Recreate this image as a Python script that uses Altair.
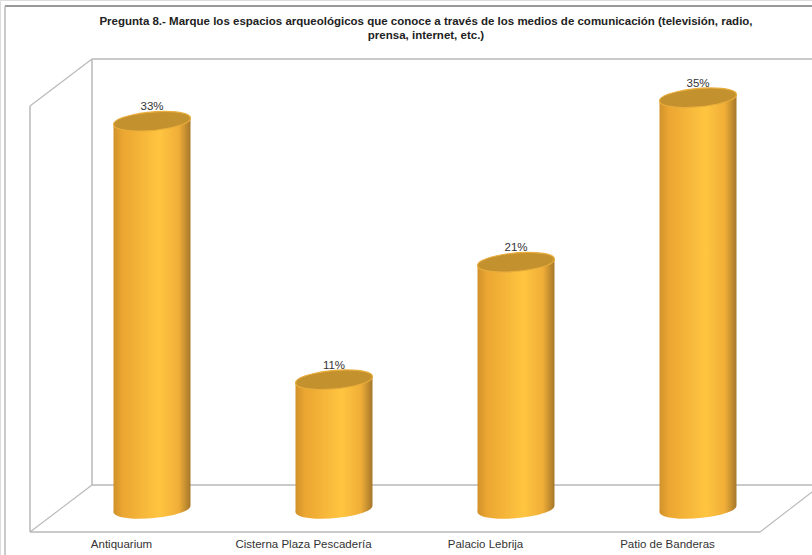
import altair as alt
import pandas as pd

# Survey results
categories = ["Antiquarium", "Cisterna Plaza Pescadería", "Palacio Lebrija", "Patio de Banderas"]
percentages = [33, 11, 21, 35]
title_lines = [
    "Pregunta 8.- Marque los espacios arqueológicos que conoce a través de los medios de comunicación (televisión, radio,",
    "prensa, internet, etc.)",
]

FONT = "Liberation Sans"
WIDTH, HEIGHT = 812, 555
HALF_WIDTH = 0.2115  # half a cylinder, in category units
SLANT = 0.3          # rise of the ellipse's right end, in percentage points

x_scale = alt.Scale(domain=[-0.5, 3.5], range=[61, 789], nice=False, zero=False)
y_scale = alt.Scale(domain=[0, 43.32], range=[509, 0], nice=False, zero=False)

tops = pd.DataFrame({"i": range(4), "pct": percentages, "label": [f"{p}%" for p in percentages]})
bases = tops.assign(pct=0)

# Each cylinder wall is a slanted band running from its floor to its value
wall_rows = []
for i, p in enumerate(percentages):
    wall_rows.append({"i": i, "xpos": i - HALF_WIDTH, "top": p - SLANT, "base": -SLANT})
    wall_rows.append({"i": i, "xpos": i + HALF_WIDTH, "top": p + SLANT, "base": SLANT})
walls = pd.DataFrame(wall_rows)

wall_gradient = alt.LinearGradient(
    gradient="linear", x1=0, x2=1, y1=0, y2=0,
    stops=[
        alt.GradientStop(offset=0.0, color="#d0922b"),
        alt.GradientStop(offset=0.12, color="#eba632"),
        alt.GradientStop(offset=0.6, color="#ffc540"),
        alt.GradientStop(offset=0.85, color="#f0ae38"),
        alt.GradientStop(offset=1.0, color="#a5772a"),
    ],
)

ELLIPSE = "M-0.996,0.087 A1,0.235,-5,1,1,0.996,-0.087 A1,0.235,-5,1,1,-0.996,0.087 Z"
ELLIPSE_SIZE = 77 ** 2


def segment(x, y, x2, y2, color="#b8b8b8", width=1.5):
    """A straight frame line given in pixels."""
    return alt.Chart(tops.head(1)).mark_rule(color=color, strokeWidth=width).encode(
        x=alt.value(x), y=alt.value(y), x2=alt.value(x2), y2=alt.value(y2)
    )


frame = [
    segment(5, 6, 812, 6, color="#777777", width=1.3),
    segment(5, 6, 5, 555, width=1.5),
    segment(92, 59, 812, 59),
    segment(92, 59, 92, 485),
    segment(92, 485, 812, 485),
    segment(30, 106, 92, 59, width=1.1),
    segment(30, 106, 30, 532),
    segment(30, 532, 92, 485, width=1.1),
    segment(30, 532, 760, 532),
    segment(760, 532, 812, 492, width=1.1),
]

# Category names sit on the front edge of the floor, left of the cylinders
category_axis = alt.Axis(
    values=[0, 1, 2, 3],
    labelExpr="[" + ",".join(f"'{c}'" for c in categories) + "][datum.value]",
    domain=False, ticks=False, grid=False, offset=-22,
    labelFont=FONT, labelFontSize=11.5, labelColor="#333333", labelPadding=5,
    labelOffset=-31, labelOverlap=False, labelFlush=False, title=None,
)
x_encoding = alt.X("i:Q", scale=x_scale, title=None, axis=category_axis)
y_encoding = alt.Y("pct:Q", scale=y_scale, axis=None)

base_ellipses = alt.Chart(bases).mark_point(
    shape=ELLIPSE, size=ELLIPSE_SIZE, filled=True, fill=wall_gradient, opacity=1, strokeWidth=0
).encode(x=x_encoding, y=y_encoding)

wall_bands = alt.Chart(walls).mark_area(fill=wall_gradient, opacity=1, line=False, interpolate="linear").encode(
    x=alt.X("xpos:Q", scale=x_scale, title=None, axis=category_axis),
    y=alt.Y("top:Q", scale=y_scale, axis=None),
    y2="base:Q",
    detail="i:N",
)

top_ellipses = alt.Chart(tops).mark_point(
    shape=ELLIPSE, size=ELLIPSE_SIZE, filled=True, fill="#c4912f", stroke="#e9ad3b", strokeWidth=1.2, opacity=1
).encode(x=x_encoding, y=y_encoding)

labels = alt.Chart(tops).mark_text(
    font=FONT, fontSize=11.5, color="#333333", dy=-14
).encode(x=x_encoding, y=y_encoding, text="label:N")

chart = alt.layer(*frame, base_ellipses, wall_bands, top_ellipses, labels).properties(
    width=WIDTH,
    height=HEIGHT,
    padding=0,
    autosize=alt.AutoSizeParams(type="none"),
    title=alt.TitleParams(
        text=title_lines, anchor="middle", font=FONT, fontSize=11.5, fontWeight="bold",
        color="#222222", dx=20, dy=45, lineHeight=14,
    ),
).configure_view(stroke=None).configure(background="white")

chart.save("out.html", embed_options={"renderer": "svg", "actions": False})
